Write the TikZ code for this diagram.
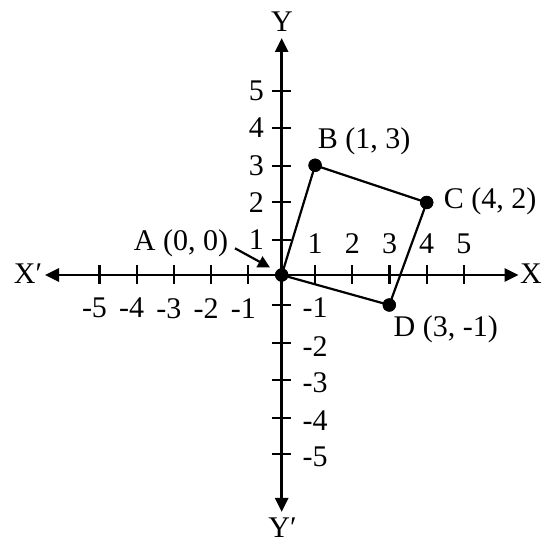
\documentclass[tikz,border=0pt]{standalone}
\usepackage{fontspec}
\setmainfont{Liberation Serif}
\usetikzlibrary{arrows.meta}
\begin{document}
\begin{tikzpicture}[x=1pt,y=-1pt,
  lbl/.style={inner sep=0pt,font=\fontsize{30}{32}\selectfont},
  axisline/.style={line width=2.8pt,-{Triangle[length=14pt,width=13pt]}},
  tickline/.style={line width=2.2pt},
  sideline/.style={line width=2.2pt},
  dot/.style={circle,fill=black,inner sep=0pt,minimum size=13.3pt},
  pointer/.style={line width=2.2pt,-{Triangle[length=12pt,width=12pt]}}]
\useasboundingbox (0,0) rectangle (550,545);
% axes
\coordinate (O) at (281.7,275);
\coordinate (xl) at (45,275);
\coordinate (xr) at (518.5,275);
\coordinate (yt) at (281.7,38);
\coordinate (yb) at (281.7,512);
\draw[axisline] (O) -- (xr);
\draw[axisline] (O) -- (xl);
\draw[axisline] (O) -- (yt);
\draw[axisline] (O) -- (yb);
% x ticks
\foreach \v/\px in {5/99.5,4/136.7,3/173.9,2/211.1,1/248.3}{
  \draw[tickline] (\px,265.5) -- (\px,284.5);
  \node[lbl,anchor=north] (xtn\v) at (\px,298) {\llap{-}\v};
}
\foreach \v/\px in {1/315.1,2/352.3,3/389.5,4/426.7,5/463.9}{
  \draw[tickline] (\px,265.5) -- (\px,284.5);
  \node[lbl,anchor=base] (xt\v) at (\px,253.3) {\v};
}
% y ticks
\foreach \v/\py in {5/90.7,4/127.7,3/165.7,2/202.3,1/240}{
  \draw[tickline] (272.3,\py) -- (291.3,\py);
  \node[lbl,anchor=east] (yt\v) at (264,\py) {\v};
}
\foreach \v/\py in {1/305,2/343.3,3/380,4/417.7,5/454.3}{
  \draw[tickline] (272.3,\py) -- (291.3,\py);
  \node[lbl,anchor=west] (ytn\v) at (302.5,\py+3) {-\v};
}
% axis labels
\node[lbl] (Ylab) at (282,22) {Y};
\node[lbl] (Yplab) at (282.5,528) {Y\char"2032};
\node[lbl] (Xplab) at (28,274) {X\char"2032};
\node[lbl] (Xlab) at (531,274) {X};
% points
\node[dot] (A) at (O) {};
\node[dot] (B) at (315.1,165.3) {};
\node[dot] (C) at (426.7,202.5) {};
\node[dot] (D) at (389.3,305) {};
\draw[sideline] (A.center) -- (B.center) -- (C.center) -- (D.center) -- cycle;
\node[dot] at (A) {};
\node[dot] at (B) {};
\node[dot] at (C) {};
\node[dot] at (D) {};
% point labels
\node[lbl] (Alab) at (181,243.3) {A (0, 0)};
\node[lbl] (Blab) at (364,141.7) {B (1, 3)};
\node[lbl] (Clab) at (490,201.7) {C (4, 2)};
\node[lbl] (Dlab) at (445.8,329.3) {D (3, -1)};
\coordinate (ptail) at (235,248.3);
\coordinate (ptip) at (270,267.5);
\draw[pointer] (ptail) -- (ptip);
\end{tikzpicture}
\end{document}
